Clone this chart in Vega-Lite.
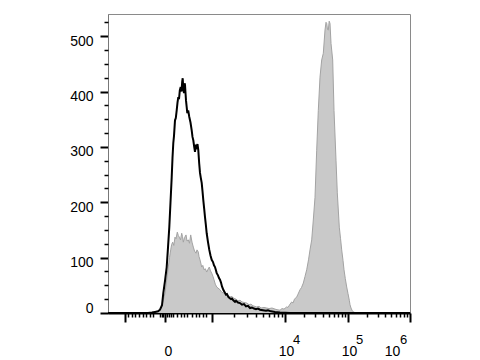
{
  "$schema": "https://vega.github.io/schema/vega-lite/v6.json",
  "width": 302,
  "height": 299,
  "autosize": {"type": "none"},
  "padding": {"left": 108, "top": 14, "right": 70, "bottom": 47},
  "background": "white",
  "config": {
    "view": {"stroke": "#8a8a8a", "strokeWidth": 1},
    "axis": {"labelFont": "Liberation Sans", "labelFontSize": 14, "labelColor": "black", "tickColor": "black", "domainColor": "black", "grid": false, "title": null}
  },
  "datasets": {
    "stained": [
      {"channel": 0, "count": 0}, {"channel": 40, "count": 0}, {"channel": 44, "count": 1}, {"channel": 47, "count": 2}, {"channel": 50, "count": 3}, {"channel": 52, "count": 5}, {"channel": 54, "count": 14}, {"channel": 55.5, "count": 25}, {"channel": 57, "count": 36}, {"channel": 58.5, "count": 58}, {"channel": 60.3, "count": 83}, {"channel": 61.5, "count": 100}, {"channel": 62.7, "count": 114}, {"channel": 63.7, "count": 124}, {"channel": 64.7, "count": 128}, {"channel": 65.8, "count": 122}, {"channel": 67, "count": 137}, {"channel": 68, "count": 134}, {"channel": 69.3, "count": 146}, {"channel": 70.3, "count": 140}, {"channel": 71.3, "count": 137}, {"channel": 72.5, "count": 132}, {"channel": 73.7, "count": 144}, {"channel": 74.5, "count": 138}, {"channel": 75.3, "count": 128}, {"channel": 76.5, "count": 136}, {"channel": 78, "count": 141}, {"channel": 79, "count": 130}, {"channel": 80.3, "count": 132}, {"channel": 81.5, "count": 126}, {"channel": 82.7, "count": 141}, {"channel": 84, "count": 128}, {"channel": 85.3, "count": 119}, {"channel": 86.5, "count": 112}, {"channel": 88, "count": 108}, {"channel": 89, "count": 114}, {"channel": 90.3, "count": 110}, {"channel": 91, "count": 102}, {"channel": 92, "count": 96}, {"channel": 92.8, "count": 90}, {"channel": 93.7, "count": 83}, {"channel": 94.8, "count": 86}, {"channel": 96, "count": 78}, {"channel": 97.3, "count": 80}, {"channel": 98.7, "count": 74}, {"channel": 100, "count": 79}, {"channel": 101.3, "count": 83}, {"channel": 102.5, "count": 76}, {"channel": 103.7, "count": 72}, {"channel": 105, "count": 66}, {"channel": 106, "count": 60}, {"channel": 107.3, "count": 52}, {"channel": 108.7, "count": 47}, {"channel": 110, "count": 45}, {"channel": 112, "count": 42}, {"channel": 113.5, "count": 38}, {"channel": 115.3, "count": 36}, {"channel": 117, "count": 34}, {"channel": 118.5, "count": 35}, {"channel": 120.3, "count": 32}, {"channel": 122, "count": 29}, {"channel": 124, "count": 30}, {"channel": 125.3, "count": 27}, {"channel": 128, "count": 25}, {"channel": 130, "count": 22}, {"channel": 132, "count": 23}, {"channel": 134, "count": 20}, {"channel": 136, "count": 19}, {"channel": 138.7, "count": 18}, {"channel": 141, "count": 15}, {"channel": 143, "count": 16}, {"channel": 145, "count": 13}, {"channel": 148.7, "count": 11}, {"channel": 151, "count": 12}, {"channel": 153, "count": 9}, {"channel": 156, "count": 10}, {"channel": 158.7, "count": 9}, {"channel": 161, "count": 8}, {"channel": 164, "count": 9}, {"channel": 167, "count": 7}, {"channel": 169, "count": 6}, {"channel": 172, "count": 5}, {"channel": 174, "count": 8}, {"channel": 176, "count": 7}, {"channel": 178.7, "count": 11}, {"channel": 180, "count": 10}, {"channel": 182, "count": 16}, {"channel": 183.7, "count": 20}, {"channel": 185, "count": 18}, {"channel": 186.5, "count": 25}, {"channel": 188.7, "count": 29}, {"channel": 190, "count": 34}, {"channel": 192, "count": 42}, {"channel": 193.5, "count": 46}, {"channel": 195.3, "count": 54}, {"channel": 197, "count": 66}, {"channel": 198.7, "count": 78}, {"channel": 200.5, "count": 96}, {"channel": 202, "count": 114}, {"channel": 203.7, "count": 132}, {"channel": 205.3, "count": 168}, {"channel": 207, "count": 209}, {"channel": 208.7, "count": 294}, {"channel": 210.3, "count": 366}, {"channel": 212, "count": 426}, {"channel": 213.7, "count": 457}, {"channel": 215.3, "count": 469}, {"channel": 217, "count": 511}, {"channel": 218, "count": 525}, {"channel": 218.7, "count": 523}, {"channel": 219.5, "count": 512}, {"channel": 220.3, "count": 511}, {"channel": 221.2, "count": 527}, {"channel": 222, "count": 523}, {"channel": 223, "count": 487}, {"channel": 224.7, "count": 457}, {"channel": 226, "count": 366}, {"channel": 228, "count": 276}, {"channel": 229.3, "count": 217}, {"channel": 231.3, "count": 155}, {"channel": 232.5, "count": 135}, {"channel": 233.7, "count": 114}, {"channel": 235, "count": 95}, {"channel": 236, "count": 78}, {"channel": 237.3, "count": 62}, {"channel": 238.7, "count": 47}, {"channel": 240, "count": 35}, {"channel": 241.3, "count": 23}, {"channel": 242, "count": 15}, {"channel": 243, "count": 9}, {"channel": 244, "count": 5}, {"channel": 245.3, "count": 2}, {"channel": 248, "count": 0}, {"channel": 302, "count": 0}
    ],
    "control": [
      {"channel": 0, "count": 0}, {"channel": 40, "count": 0}, {"channel": 44, "count": 1}, {"channel": 47, "count": 2}, {"channel": 50, "count": 3}, {"channel": 52, "count": 6}, {"channel": 54, "count": 14}, {"channel": 55.3, "count": 36}, {"channel": 57, "count": 58}, {"channel": 58.7, "count": 83}, {"channel": 60, "count": 118}, {"channel": 61.3, "count": 155}, {"channel": 62.5, "count": 200}, {"channel": 63.7, "count": 245}, {"channel": 64.5, "count": 280}, {"channel": 65.3, "count": 307}, {"channel": 66, "count": 320}, {"channel": 67, "count": 348}, {"channel": 67.8, "count": 352}, {"channel": 68.7, "count": 366}, {"channel": 69.5, "count": 380}, {"channel": 70.3, "count": 390}, {"channel": 71, "count": 386}, {"channel": 71.8, "count": 402}, {"channel": 72.7, "count": 408}, {"channel": 73.5, "count": 400}, {"channel": 74.2, "count": 418}, {"channel": 74.7, "count": 424}, {"channel": 75.3, "count": 405}, {"channel": 76, "count": 397}, {"channel": 76.6, "count": 415}, {"channel": 77, "count": 412}, {"channel": 77.6, "count": 395}, {"channel": 78, "count": 384}, {"channel": 78.7, "count": 372}, {"channel": 79.3, "count": 361}, {"channel": 80.2, "count": 366}, {"channel": 81.3, "count": 354}, {"channel": 82.5, "count": 344}, {"channel": 83.7, "count": 330}, {"channel": 84.5, "count": 318}, {"channel": 85.3, "count": 312}, {"channel": 86.2, "count": 300}, {"channel": 87, "count": 291}, {"channel": 87.8, "count": 304}, {"channel": 88.7, "count": 300}, {"channel": 89.5, "count": 305}, {"channel": 90.3, "count": 294}, {"channel": 91.2, "count": 270}, {"channel": 92, "count": 253}, {"channel": 92.8, "count": 244}, {"channel": 93.7, "count": 235}, {"channel": 94.5, "count": 220}, {"channel": 95.3, "count": 204}, {"channel": 96.2, "count": 188}, {"channel": 97, "count": 173}, {"channel": 97.8, "count": 160}, {"channel": 98.7, "count": 144}, {"channel": 100, "count": 128}, {"channel": 101.3, "count": 114}, {"channel": 102.5, "count": 104}, {"channel": 103.7, "count": 96}, {"channel": 105, "count": 92}, {"channel": 106, "count": 86}, {"channel": 107, "count": 83}, {"channel": 107.8, "count": 78}, {"channel": 108.7, "count": 72}, {"channel": 110, "count": 68}, {"channel": 111, "count": 63}, {"channel": 112, "count": 60}, {"channel": 113, "count": 55}, {"channel": 114, "count": 48}, {"channel": 115.3, "count": 42}, {"channel": 116.5, "count": 38}, {"channel": 118, "count": 33}, {"channel": 119, "count": 34}, {"channel": 120.3, "count": 29}, {"channel": 121.5, "count": 27}, {"channel": 123, "count": 25}, {"channel": 124, "count": 26}, {"channel": 125.3, "count": 23}, {"channel": 127, "count": 20}, {"channel": 128, "count": 22}, {"channel": 130, "count": 19}, {"channel": 132, "count": 18}, {"channel": 134, "count": 15}, {"channel": 136, "count": 16}, {"channel": 138, "count": 12}, {"channel": 140, "count": 13}, {"channel": 142, "count": 9}, {"channel": 144, "count": 10}, {"channel": 146, "count": 8}, {"channel": 148, "count": 7}, {"channel": 150, "count": 8}, {"channel": 152, "count": 6}, {"channel": 155, "count": 5}, {"channel": 158, "count": 4}, {"channel": 160, "count": 5}, {"channel": 163, "count": 3}, {"channel": 167, "count": 2}, {"channel": 172, "count": 1}, {"channel": 182, "count": 0}, {"channel": 302, "count": 0}
    ]
  },
  "layer": [
    {
      "data": {"name": "stained"},
      "mark": {"type": "area", "color": "#c9c9c9", "line": false},
      "encoding": {
        "x": {"field": "channel", "type": "quantitative", "scale": {"domain": [0, 302], "nice": false, "zero": false},
          "axis": {"orient": "bottom", "values": [17, 57, 104, 177, 240, 302], "labelExpr": "datum.value == 57 ? '0' : (datum.value >= 177 ? '10' : '')",
            "tickSize": 9, "tickWidth": 2, "domainWidth": 2, "labelPadding": 22, "labelBaseline": "top", "labelFlush": false, "labelOverlap": false,
            "labelOffset": {"condition": [{"test": "datum.value == 57", "value": 3}, {"test": "datum.value == 302", "value": -18}], "value": 1}}},
        "y": {"field": "count", "type": "quantitative", "scale": {"domain": [0, 540], "nice": false},
          "axis": {"orient": "left", "values": [0, 100, 200, 300, 400, 500], "tickSize": 8, "tickWidth": 2, "domainColor": "#777777", "domainWidth": 1, "labelPadding": 7,
            "labelOffset": {"condition": {"test": "datum.value == 0", "value": -5}, "value": 5}}}
      }
    },
    {
      "data": {"name": "stained"},
      "mark": {"type": "line", "color": "#a3a3a3", "strokeWidth": 1},
      "encoding": {
        "x": {"field": "channel", "type": "quantitative",
          "axis": {"orient": "bottom", "values": [20, 24, 27, 31, 35, 38, 42, 45, 52, 54, 55, 59, 61, 63, 65, 69, 73, 76, 79, 84, 88, 91, 95, 98, 126, 139, 148, 155, 161, 166, 170, 174, 196, 207, 215, 221, 226, 230, 234, 237, 259, 270, 277, 283, 288, 292, 296, 299],
            "labels": false, "domain": false, "tickSize": 4, "tickWidth": 1.5}},
        "y": {"field": "count", "type": "quantitative",
          "axis": {"orient": "left", "values": [25, 50, 75, 125, 150, 175, 225, 250, 275, 325, 350, 375, 425, 450, 475, 525], "labels": false, "domain": false, "tickSize": 4, "tickWidth": 1.5}}
      }
    },
    {
      "data": {"name": "control"},
      "mark": {"type": "line", "color": "black", "strokeWidth": 2},
      "encoding": {
        "x": {"field": "channel", "type": "quantitative",
          "axis": {"orient": "bottom", "values": [177, 240, 302], "labelExpr": "datum.value == 177 ? '4' : (datum.value == 240 ? '5' : '6')",
            "ticks": false, "domain": false, "labelFontSize": 13, "labelPadding": 20, "labelBaseline": "top", "labelFlush": false, "labelOverlap": false,
            "labelOffset": {"condition": {"test": "datum.value == 302", "value": -7}, "value": 11}}},
        "y": {"field": "count", "type": "quantitative", "axis": null}
      }
    }
  ],
  "resolve": {"axis": {"x": "independent", "y": "independent"}}
}
